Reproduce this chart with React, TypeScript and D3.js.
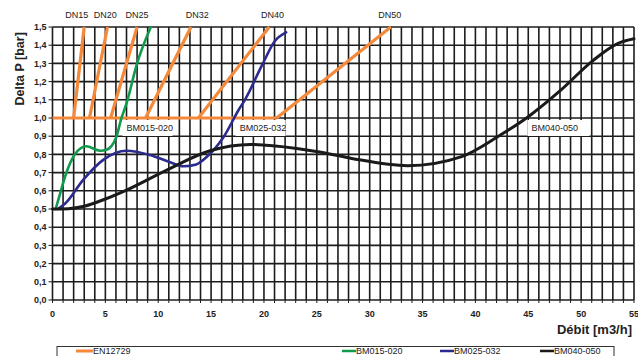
import React from 'react';
import * as d3 from 'd3';

// EN12729 limit lines: flat at 1.0 bar, then one slope per nominal size
const dnNames = ['DN15', 'DN20', 'DN25', 'DN32', 'DN40', 'DN50'];
const dnStart = [2.0, 3.5, 5.5, 8.8, 13.8, 21.2];
const dnEnd = [3.0, 5.2, 8.0, 13.1, 20.5, 32.0];
const dnLabelAt = [2.3, 5.0, 8.0, 13.7, 20.8, 31.9];
const enBase = 1.0;
const enTop = 1.5;

const bm015: [number, number][] = [
  [0.3, 0.5], [0.7, 0.58], [1.2, 0.68], [2.1, 0.8], [3.2, 0.845], [4.5, 0.82],
  [5.1, 0.825], [6.0, 0.89], [6.5, 0.995], [7.0, 1.08], [8.0, 1.3], [9.3, 1.5],
];
const bm025: [number, number][] = [
  [0.5, 0.5], [1.2, 0.53], [2.9, 0.66], [4.8, 0.77], [7.0, 0.82], [9.2, 0.797],
  [11.0, 0.76], [12.4, 0.735], [13.6, 0.745], [14.6, 0.787], [16.2, 0.897],
  [17.6, 1.044], [18.2, 1.1], [19.9, 1.3], [21.0, 1.42], [22.1, 1.47],
];
const bm040: [number, number][] = [
  [0, 0.5], [1.5, 0.502], [3, 0.515], [5, 0.555], [7, 0.604], [10.8, 0.714],
  [14.9, 0.82], [18.7, 0.855], [23.1, 0.833], [25.1, 0.815], [28.3, 0.778],
  [33.6, 0.738], [38.7, 0.788], [42.1, 0.897], [45, 1.007], [48.1, 1.154],
  [51, 1.31], [53.5, 1.41], [55, 1.435],
];

const seriesNames = ['BM015-020', 'BM025-032', 'BM040-050'];
const seriesData = [bm015, bm025, bm040];
const seriesColors = ['#0f9a4c', '#2b2b8e', '#1a1a1a'];
const labelX = [7.0, 17.7, 45.3];
const labelY = 0.945;

const xTicks = d3.range(0, 56, 5);
const yTicks = d3.range(0, 16).map(d => d / 10);

const W = 638;
const H = 356;

export default function App() {
  const x = d3.scaleLinear().domain([0, 55]).range([52.5, 634]);
  const y = d3.scaleLinear().domain([0, 1.5]).range([300, 27]);

  const line = d3.line<[number, number]>()
    .x(d => x(d[0]))
    .y(d => y(d[1]))
    .curve(d3.curveMonotoneX);

  const gridX = d3.range(0, 56);
  const orange = '#f5893a';
  const font = '"Liberation Sans", Arial, sans-serif';

  return (
    <svg width={W} height={H} style={{ position: 'absolute', left: 0, top: 0, background: '#fff' }} fontFamily={font}>
      {/* grid */}
      <g stroke="#1c1c1c" strokeWidth={1.6}>
        {gridX.map(v => (
          <line key={'gx' + v} x1={x(v)} x2={x(v)} y1={y(0)} y2={y(1.5)} />
        ))}
        {yTicks.map(v => (
          <line key={'gy' + v} x1={x(0)} x2={x(55)} y1={y(v)} y2={y(v)} />
        ))}
        {gridX.map(v => (
          <line key={'tx' + v} x1={x(v)} x2={x(v)} y1={y(0)} y2={y(0) + 3} strokeWidth={1} />
        ))}
        {yTicks.map(v => (
          <line key={'ty' + v} x1={x(0) - 4} x2={x(0)} y1={y(v)} y2={y(v)} strokeWidth={1} />
        ))}
      </g>

      {/* axis tick labels */}
      <g fontSize={9} fontWeight="bold" fill="#222">
        {yTicks.map(v => (
          <text key={'ly' + v} x={x(0) - 6} y={y(v)} dy="0.35em" textAnchor="end">
            {v.toFixed(1).replace('.', ',')}
          </text>
        ))}
        {xTicks.map(v => (
          <text key={'lx' + v} x={x(v)} y={y(0) + 17} textAnchor="middle">{v}</text>
        ))}
      </g>

      {/* EN12729 */}
      <g stroke={orange} strokeWidth={3.2} fill="none">
        <line x1={x(0)} x2={x(dnStart[dnStart.length - 1])} y1={y(enBase)} y2={y(enBase)} />
        {dnNames.map((n, i) => (
          <line key={n} x1={x(dnStart[i])} x2={x(dnEnd[i])} y1={y(enBase)} y2={y(enTop)} />
        ))}
      </g>
      <g fontSize={9} fill="#222" textAnchor="middle">
        {dnNames.map((n, i) => (
          <text key={'t' + n} x={x(dnLabelAt[i])} y={18}>{n}</text>
        ))}
      </g>

      {/* series curves */}
      {seriesData.map((d, i) => (
        <path key={seriesNames[i]} d={line(d) || ''} fill="none" stroke={seriesColors[i]}
          strokeWidth={i === 2 ? 3 : 2.6} strokeLinecap="round" />
      ))}

      {/* series labels */}
      {seriesNames.map((n, i) => (
        <g key={'lab' + n}>
          <rect x={x(labelX[i]) - 4} y={y(labelY) - 8} width={i === 2 ? 62 : 50} height={16} fill="#fff" />
          <text x={x(labelX[i])} y={y(labelY)} dy="0.35em" fontSize={9} fill="#222">{n}</text>
        </g>
      ))}

      {/* axis titles */}
      <text transform={`translate(20,${y(1.27)}) rotate(-90)`} textAnchor="middle" fontSize={12.5}
        fontWeight="bold" fill="#222" dy="0.35em">Delta P [bar]</text>
      <text x={632} y={334} textAnchor="end" fontSize={13} fontWeight="bold" fill="#222">Débit [m3/h]</text>

      {/* legend */}
      <rect x={57} y={346.5} width={557} height={20} fill="#fff" stroke="#333" strokeWidth={1} />
      <g fontSize={9} fill="#222">
        <line x1={76} x2={93} y1={351} y2={351} stroke={orange} strokeWidth={3} />
        <text x={93} y={353.5}>EN12729</text>
        {seriesNames.map((n, i) => {
          const lx = [342, 440, 540][i];
          return (
            <g key={'lg' + n}>
              <line x1={lx} x2={lx + 14} y1={351} y2={351} stroke={seriesColors[i]} strokeWidth={2.5} />
              <text x={lx + 14} y={353.5}>{n}</text>
            </g>
          );
        })}
      </g>
    </svg>
  );
}
